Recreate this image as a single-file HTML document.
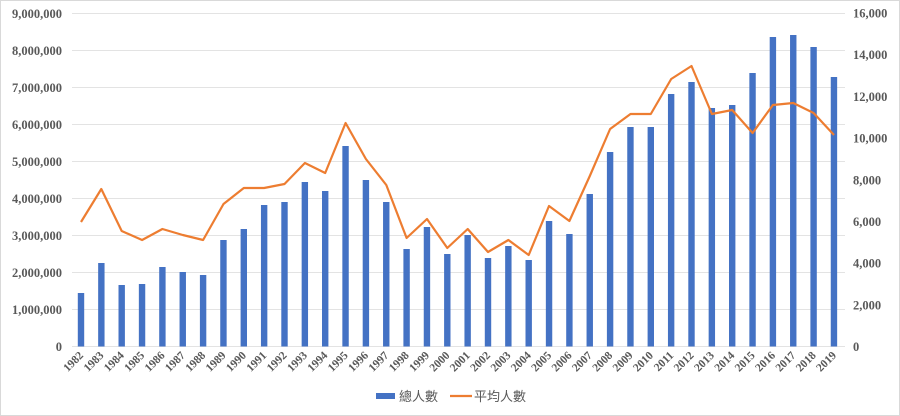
<!DOCTYPE html>
<html><head><meta charset="utf-8"><style>
html,body{margin:0;padding:0;background:#fff;}
svg{display:block;}
text{font-family:"Liberation Serif","Noto Serif CJK SC",serif;fill:#595959;font-weight:bold;font-size:12.5px;}
.lg{font-family:"Liberation Sans","Noto Sans CJK TC",sans-serif;font-weight:normal;font-size:13px;}
</style></head><body>
<svg id="c" width="900" height="416" xmlns="http://www.w3.org/2000/svg"></svg>
<script>
var s=document.getElementById('c'),h='';
h+='<rect x="0.5" y="0.5" width="899" height="415" fill="#fff" stroke="#d9d9d9"/>';
var y0=346.5,step=37.0;
var la=['0','1,000,000','2,000,000','3,000,000','4,000,000','5,000,000','6,000,000','7,000,000','8,000,000','9,000,000'];
var ra=['0','2,000','4,000','6,000','8,000','10,000','12,000','14,000','16,000'];
for(var i=0;i<=9;i++){var y=y0-i*step;h+='<line x1="72" x2="845" y1="'+y+'" y2="'+y+'" stroke="#e3e3e3" stroke-width="1"/>';h+='<text x="62" y="'+(y+4.5)+'" text-anchor="end">'+la[i]+'</text>';}
for(var i=0;i<=8;i++){var y=y0-i*(333.5/8);h+='<text x="853" y="'+(y+4.5)+'">'+ra[i]+'</text>';}
var bars=[293,263,285,284,267,272,275,240,229,205,202,182,191,146,180,202,249,227,254,235,258,246,260,221,234,194,152,127,127,94,82,108,105,73,37,35,47,77];
var line=[222,189,231,240,229,235,240,204,188,188,184,163,173,123,159,185,238,219,248,229,252,240,255,206,221,176,129,114,114,79,66,114,110,133,105,103,113,135];
var pts=[];
for(var i=0;i<38;i++){var x=81+i*20.35;h+='<rect x="'+(x-3.2)+'" y="'+bars[i]+'" width="6.4" height="'+(y0-bars[i])+'" fill="#4472c4"/>';pts.push(x.toFixed(1)+','+line[i]);
h+='<text transform="translate('+(x+3)+',356) rotate(-45)" text-anchor="end" style="font-size:11.5px">'+(1982+i)+'</text>';}
h+='<polyline points="'+pts.join(' ')+'" fill="none" stroke="#ed7d31" stroke-width="2.2" stroke-linejoin="round"/>';
h+='<rect x="376" y="393" width="19" height="6" fill="#4472c4"/><text class="lg" x="399" y="401">總人數</text>';
h+='<line x1="450" x2="472" y1="396" y2="396" stroke="#ed7d31" stroke-width="2.2"/><text class="lg" x="474" y="401">平均人數</text>';
s.innerHTML=h;
</script>
</body></html>
